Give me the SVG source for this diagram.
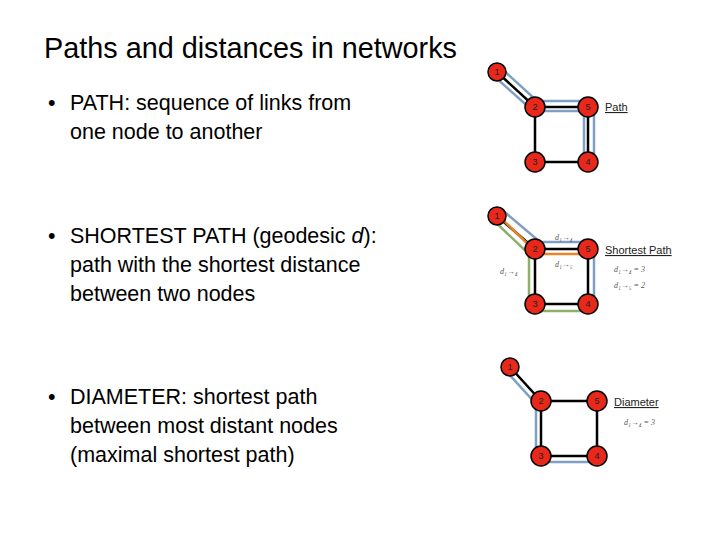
<svg xmlns="http://www.w3.org/2000/svg" width="720" height="540" viewBox="0 0 720 540">
<style>
.t{font-family:"Liberation Sans",Arial,sans-serif;fill:#000}
.b{font-size:21.5px}
.e{stroke:#000;stroke-width:2.5;fill:none}
.n circle{fill:#e8281a;stroke:#000;stroke-width:1.5}
.n text{font-family:"Liberation Sans",Arial,sans-serif;font-size:9px;fill:#222;text-anchor:middle}
.bl{stroke:#7f9fc3;stroke-width:2.5;fill:none}
.or{stroke:#e8842a;stroke-width:2.5;fill:none}
.gr{stroke:#8fae6a;stroke-width:2.5;fill:none}
.lab{font-family:"Liberation Sans",Arial,sans-serif;font-size:11px;text-decoration:underline;fill:#222}
.m{font-family:"Liberation Serif",serif;font-size:8px;fill:#555;font-style:italic}
</style>
<rect width="720" height="540" fill="#fff"/>
<text class="t" x="44" y="58" font-size="28.8">Paths and distances in networks</text>
<g id="text">
<text class="t b" x="48" y="110">•</text>
<text class="t b" x="70" y="110">PATH: sequence of links from</text>
<text class="t b" x="70" y="139">one node to another</text>
<text class="t b" x="48" y="243">•</text>
<text class="t b" x="70" y="243">SHORTEST PATH (geodesic <tspan font-style="italic">d</tspan>):</text>
<text class="t b" x="70" y="272">path with the shortest distance</text>
<text class="t b" x="70" y="301">between two nodes</text>
<text class="t b" x="48" y="404">•</text>
<text class="t b" x="70" y="404">DIAMETER: shortest path</text>
<text class="t b" x="70" y="433">between most distant nodes</text>
<text class="t b" x="70" y="462">(maximal shortest path)</text>
</g>
<g id="connectors">
<path class="e" d="M497 72L535 107H588V162H535V107"/>
<path class="bl" d="M500 67L537 101H594V162M495 77L533 111H584V158"/>
<path class="e" d="M497 216L535 249H588V304H535V249"/>
<path class="bl" d="M500 208L540 242H594V300"/>
<path class="or" d="M497 214L538 254H588"/>
<path class="gr" d="M492 219L529 254V311H588"/>
<path class="e" d="M510 367L541 401H597V456H541V401"/>
<path class="bl" d="M506 371L536 404V462H597"/>
</g>
<g id="n1a" class="n"><circle cx="497" cy="72" r="9"/><text x="497" y="75">1</text></g>
<g id="n2a" class="n"><circle cx="535" cy="107" r="10"/><text x="535" y="110">2</text></g>
<g id="n5a" class="n"><circle cx="588" cy="107" r="10"/><text x="588" y="110">5</text></g>
<g id="n3a" class="n"><circle cx="535" cy="162" r="10"/><text x="535" y="165">3</text></g>
<g id="n4a" class="n"><circle cx="588" cy="162" r="10"/><text x="588" y="165">4</text></g>
<g id="n1b" class="n"><circle cx="497" cy="216" r="9"/><text x="497" y="219">1</text></g>
<g id="n2b" class="n"><circle cx="535" cy="249" r="10"/><text x="535" y="252">2</text></g>
<g id="n5b" class="n"><circle cx="588" cy="249" r="10"/><text x="588" y="252">5</text></g>
<g id="n3b" class="n"><circle cx="535" cy="304" r="10"/><text x="535" y="307">3</text></g>
<g id="n4b" class="n"><circle cx="588" cy="304" r="10"/><text x="588" y="307">4</text></g>
<g id="n1c" class="n"><circle cx="510" cy="367" r="9"/><text x="510" y="370">1</text></g>
<g id="n2c" class="n"><circle cx="541" cy="401" r="10"/><text x="541" y="404">2</text></g>
<g id="n5c" class="n"><circle cx="597" cy="401" r="10"/><text x="597" y="404">5</text></g>
<g id="n3c" class="n"><circle cx="541" cy="456" r="10"/><text x="541" y="459">3</text></g>
<g id="n4c" class="n"><circle cx="597" cy="456" r="10"/><text x="597" y="459">4</text></g>
<g id="labels">
<text class="lab" x="605" y="111">Path</text>
<text class="lab" x="605" y="254">Shortest Path</text>
<text class="lab" x="614" y="406">Diameter</text>
<text class="m" x="555" y="240">d₁→₄</text>
<text class="m" x="555" y="267">d₁→₅</text>
<text class="m" x="500" y="274">d₁→₄</text>
<text class="m" x="614" y="272">d₁→₄ = 3</text>
<text class="m" x="614" y="288">d₁→₅ = 2</text>
<text class="m" x="624" y="425">d₁→₄ = 3</text>
</g>
</svg>
